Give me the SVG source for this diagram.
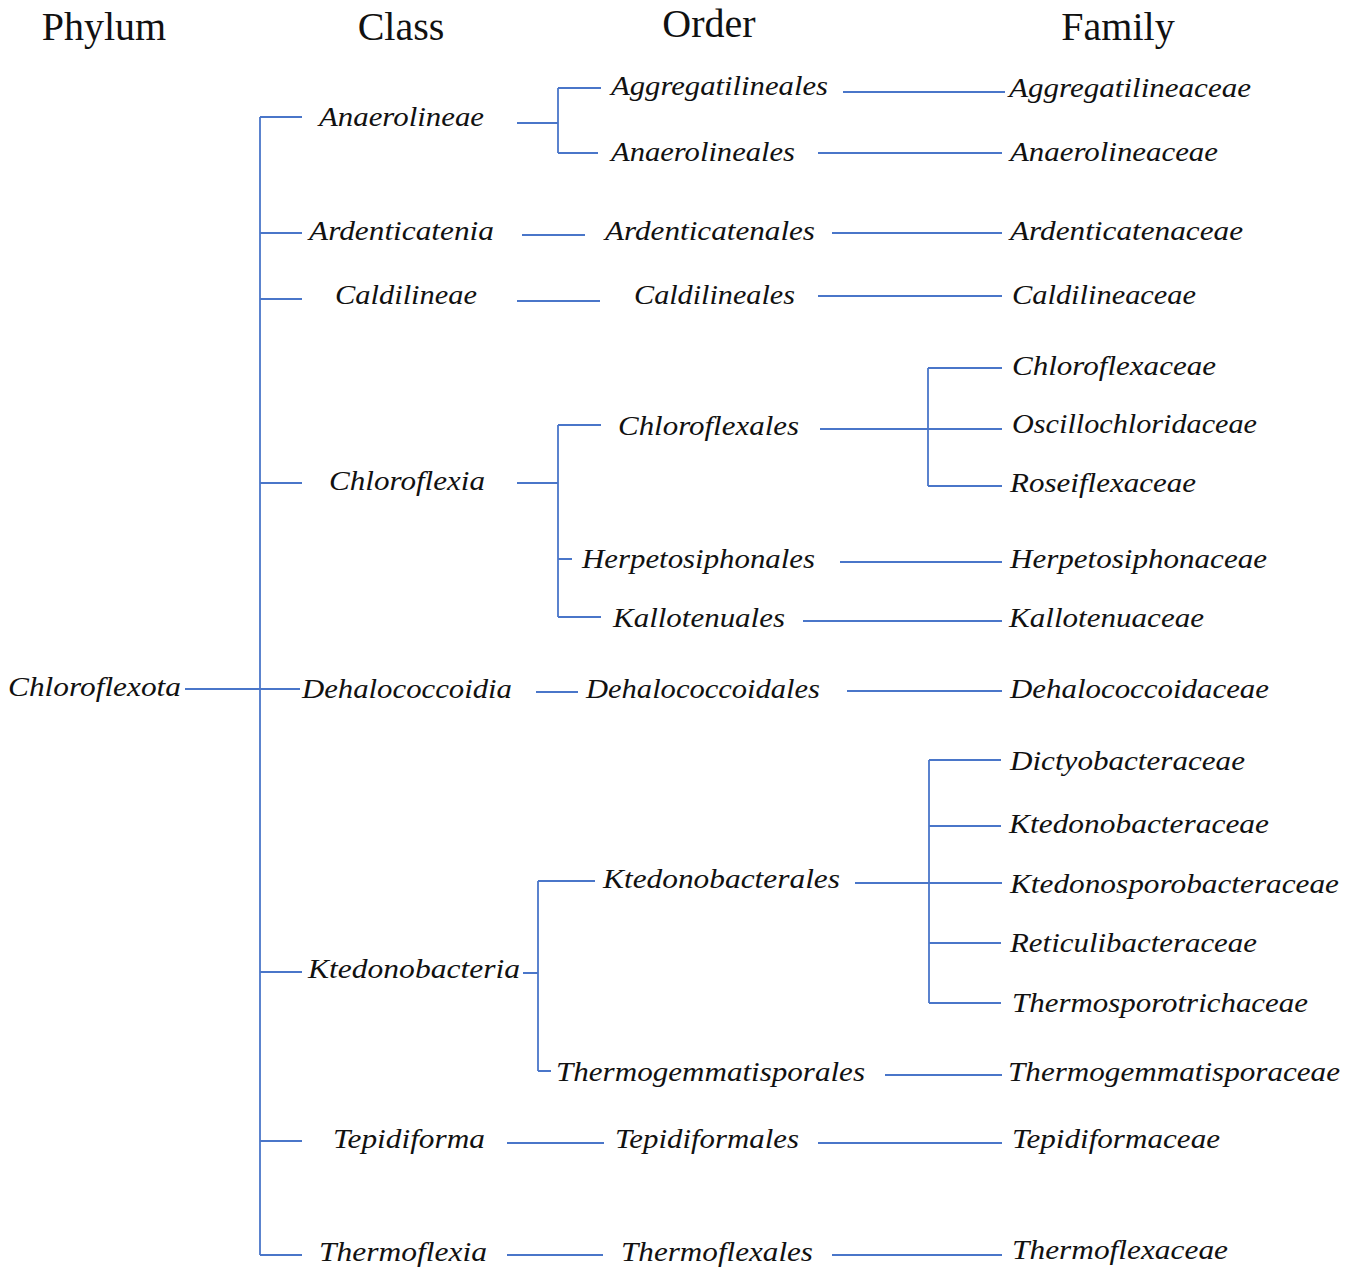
<svg xmlns="http://www.w3.org/2000/svg" width="1361" height="1275" viewBox="0 0 1361 1275">
<style>
.h{font-family:"Liberation Serif",serif;font-size:40px;fill:#111}
.t{font-family:"Liberation Serif",serif;font-style:italic;font-size:27px;fill:#111}
.c{stroke:#4a76c9;stroke-width:1.8;fill:none}
</style>
<rect width="1361" height="1275" fill="#fff"/>
<g id="headers">
<text class="h" x="104" y="40" text-anchor="middle">Phylum</text>
<text class="h" x="401" y="40" text-anchor="middle">Class</text>
<text class="h" x="709" y="37" text-anchor="middle">Order</text>
<text class="h" x="1118" y="40" text-anchor="middle">Family</text>
</g>
<g id="connectors" class="c">
<path d="M260 117V1255"/>
<path d="M185 689H300"/>
<path d="M260 117H302M260 233H302M260 299H302M260 483H302M260 972H302M260 1141H302M260 1255H302"/>
<path d="M517 123H558M558 88V153M558 88H601M558 153H598"/>
<path d="M522 235H585"/>
<path d="M517 301H600"/>
<path d="M517 483H558M558 425V617M558 425H601M558 559H572M558 617H601"/>
<path d="M536 692H578"/>
<path d="M523 973H538M538 881V1071M538 881H595M538 1071H551"/>
<path d="M507 1143H604"/>
<path d="M507 1255H603"/>
<path d="M843 92H1005"/>
<path d="M818 153H1002"/>
<path d="M832 233H1002"/>
<path d="M818 296H1002"/>
<path d="M820 429H1002M928 368V486M928 368H1002M928 486H1002"/>
<path d="M840 562H1002"/>
<path d="M803 621H1002"/>
<path d="M847 691H1002"/>
<path d="M855 883H1002M929 760V1003M929 760H1001M929 826H1001M929 943H1001M929 1003H1001"/>
<path d="M885 1075H1002"/>
<path d="M818 1143H1002"/>
<path d="M832 1255H1002"/>
</g>
<g id="phylum"><text class="t" x="8" y="696" textLength="173" lengthAdjust="spacingAndGlyphs">Chloroflexota</text></g>
<g id="class">
<text class="t" x="319" y="126" textLength="165" lengthAdjust="spacingAndGlyphs">Anaerolineae</text>
<text class="t" x="309" y="240" textLength="185" lengthAdjust="spacingAndGlyphs">Ardenticatenia</text>
<text class="t" x="335" y="304" textLength="142" lengthAdjust="spacingAndGlyphs">Caldilineae</text>
<text class="t" x="329" y="490" textLength="156" lengthAdjust="spacingAndGlyphs">Chloroflexia</text>
<text class="t" x="302" y="698" textLength="210" lengthAdjust="spacingAndGlyphs">Dehalococcoidia</text>
<text class="t" x="308" y="978" textLength="212" lengthAdjust="spacingAndGlyphs">Ktedonobacteria</text>
<text class="t" x="333" y="1148" textLength="152" lengthAdjust="spacingAndGlyphs">Tepidiforma</text>
<text class="t" x="319" y="1261" textLength="168" lengthAdjust="spacingAndGlyphs">Thermoflexia</text>
</g>
<g id="order">
<text class="t" x="611" y="95" textLength="217" lengthAdjust="spacingAndGlyphs">Aggregatilineales</text>
<text class="t" x="611" y="161" textLength="184" lengthAdjust="spacingAndGlyphs">Anaerolineales</text>
<text class="t" x="605" y="240" textLength="210" lengthAdjust="spacingAndGlyphs">Ardenticatenales</text>
<text class="t" x="634" y="304" textLength="161" lengthAdjust="spacingAndGlyphs">Caldilineales</text>
<text class="t" x="618" y="435" textLength="181" lengthAdjust="spacingAndGlyphs">Chloroflexales</text>
<text class="t" x="582" y="568" textLength="233" lengthAdjust="spacingAndGlyphs">Herpetosiphonales</text>
<text class="t" x="613" y="627" textLength="172" lengthAdjust="spacingAndGlyphs">Kallotenuales</text>
<text class="t" x="586" y="698" textLength="234" lengthAdjust="spacingAndGlyphs">Dehalococcoidales</text>
<text class="t" x="603" y="888" textLength="237" lengthAdjust="spacingAndGlyphs">Ktedonobacterales</text>
<text class="t" x="556" y="1081" textLength="309" lengthAdjust="spacingAndGlyphs">Thermogemmatisporales</text>
<text class="t" x="615" y="1148" textLength="184" lengthAdjust="spacingAndGlyphs">Tepidiformales</text>
<text class="t" x="621" y="1261" textLength="192" lengthAdjust="spacingAndGlyphs">Thermoflexales</text>
</g>
<g id="family">
<text class="t" x="1009" y="97" textLength="242" lengthAdjust="spacingAndGlyphs">Aggregatilineaceae</text>
<text class="t" x="1010" y="161" textLength="208" lengthAdjust="spacingAndGlyphs">Anaerolineaceae</text>
<text class="t" x="1010" y="240" textLength="233" lengthAdjust="spacingAndGlyphs">Ardenticatenaceae</text>
<text class="t" x="1012" y="304" textLength="184" lengthAdjust="spacingAndGlyphs">Caldilineaceae</text>
<text class="t" x="1012" y="375" textLength="204" lengthAdjust="spacingAndGlyphs">Chloroflexaceae</text>
<text class="t" x="1012" y="433" textLength="245" lengthAdjust="spacingAndGlyphs">Oscillochloridaceae</text>
<text class="t" x="1010" y="492" textLength="186" lengthAdjust="spacingAndGlyphs">Roseiflexaceae</text>
<text class="t" x="1010" y="568" textLength="257" lengthAdjust="spacingAndGlyphs">Herpetosiphonaceae</text>
<text class="t" x="1009" y="627" textLength="195" lengthAdjust="spacingAndGlyphs">Kallotenuaceae</text>
<text class="t" x="1010" y="698" textLength="259" lengthAdjust="spacingAndGlyphs">Dehalococcoidaceae</text>
<text class="t" x="1010" y="770" textLength="235" lengthAdjust="spacingAndGlyphs">Dictyobacteraceae</text>
<text class="t" x="1009" y="833" textLength="260" lengthAdjust="spacingAndGlyphs">Ktedonobacteraceae</text>
<text class="t" x="1010" y="893" textLength="329" lengthAdjust="spacingAndGlyphs">Ktedonosporobacteraceae</text>
<text class="t" x="1010" y="952" textLength="247" lengthAdjust="spacingAndGlyphs">Reticulibacteraceae</text>
<text class="t" x="1012" y="1012" textLength="296" lengthAdjust="spacingAndGlyphs">Thermosporotrichaceae</text>
<text class="t" x="1008" y="1081" textLength="332" lengthAdjust="spacingAndGlyphs">Thermogemmatisporaceae</text>
<text class="t" x="1012" y="1148" textLength="208" lengthAdjust="spacingAndGlyphs">Tepidiformaceae</text>
<text class="t" x="1012" y="1259" textLength="216" lengthAdjust="spacingAndGlyphs">Thermoflexaceae</text>
</g>
</svg>
